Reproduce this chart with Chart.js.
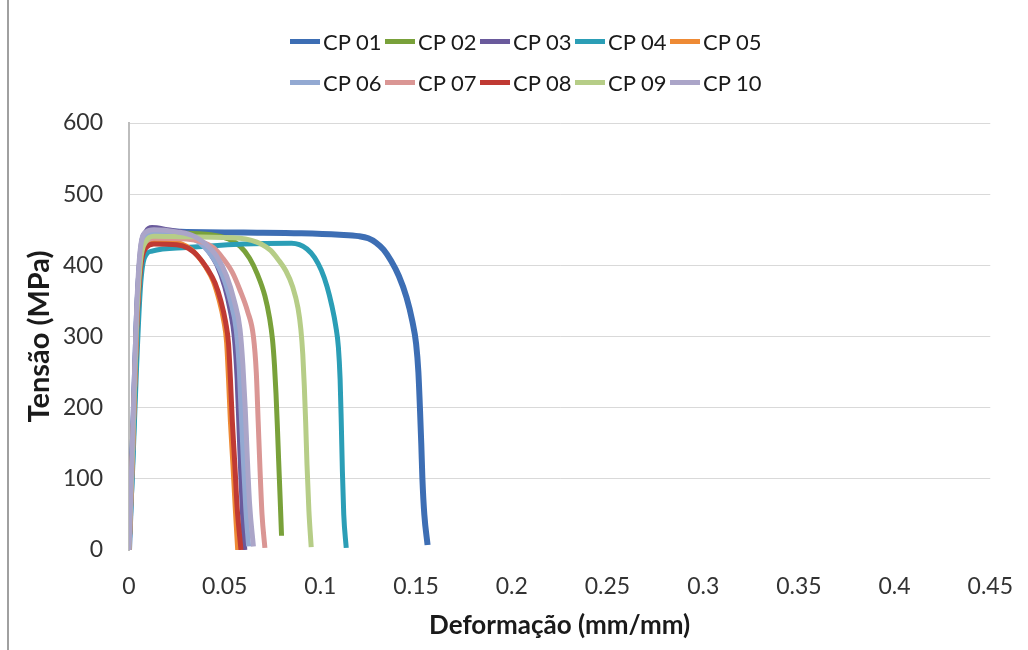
<!DOCTYPE html>
<html>
<head>
<meta charset="utf-8">
<script src="https://cdn.jsdelivr.net/npm/chart.js@4/dist/chart.umd.min.js"></script>
<style>
  body { margin: 0; background: #fff; }
  #wrap { position: relative; width: 1028px; height: 650px; background: #fff; }
  #frame { position: absolute; left: 7px; top: 0; width: 2px; height: 650px; background: #a0a0a0; }
  .legend-row { position: absolute; left: 290px; height: 26px; display: flex; font-family: Lato, "Open Sans", sans-serif; font-size: 22px; color: #1a1a1a; }
  .legend-item { width: 95px; display: flex; align-items: center; white-space: nowrap; }
  .legend-swatch { width: 30px; height: 5px; margin-right: 3px; flex: none; }
</style>
</head>
<body>
<div id="wrap">
  <canvas id="chart" width="1028" height="650"></canvas>
  <div id="frame"></div>
  <div class="legend-row" id="row1" style="top: 28px;"></div>
  <div class="legend-row" id="row2" style="top: 69px;"></div>
</div>
<script>
// Series names and colours
const seriesNames = ['CP 01', 'CP 02', 'CP 03', 'CP 04', 'CP 05', 'CP 06', 'CP 07', 'CP 08', 'CP 09', 'CP 10'];
const seriesColors = ['#3D6EB4', '#79A13A', '#6A5A9C', '#2B9EB6', '#EE8A35', '#93A9D2', '#DA9694', '#C03A33', '#B6CD87', '#ABA5C8'];

// Deformação (mm/mm) / Tensão (MPa)
const cp01Strain = [0, 0.002, 0.004, 0.006, 0.009, 0.012, 0.03, 0.06, 0.09, 0.11, 0.12, 0.125, 0.129, 0.133, 0.137, 0.141, 0.145, 0.148, 0.150, 0.1512, 0.152, 0.1527, 0.1533, 0.1543, 0.156];
const cp01Stress = [0, 150, 320, 410, 440, 448, 447, 446, 445, 443, 441, 438, 432, 422, 406, 385, 355, 322, 290, 250, 200, 150, 100, 50, 7];

const cp02Strain = [0, 0.002, 0.004, 0.006, 0.009, 0.014, 0.03, 0.045, 0.052, 0.058, 0.063, 0.067, 0.071, 0.0735, 0.075, 0.076, 0.0768, 0.0775, 0.0782, 0.079, 0.0797];
const cp02Stress = [0, 150, 320, 405, 437, 446, 445, 442, 437, 427, 410, 388, 357, 325, 295, 260, 220, 175, 125, 70, 20];

const cp03Strain = [0, 0.002, 0.004, 0.006, 0.009, 0.012, 0.02, 0.03, 0.036, 0.041, 0.046, 0.05, 0.053, 0.055, 0.0565, 0.0575, 0.0585, 0.0595, 0.0605];
const cp03Stress = [0, 160, 330, 420, 448, 453, 450, 445, 437, 422, 400, 370, 335, 300, 240, 170, 100, 40, 0];

const cp04Strain = [0, 0.002, 0.004, 0.006, 0.008, 0.012, 0.03, 0.06, 0.085, 0.089, 0.093, 0.097, 0.1005, 0.1035, 0.106, 0.108, 0.1094, 0.1103, 0.1109, 0.1115, 0.1122, 0.1135];
const cp04Stress = [0, 120, 260, 370, 410, 420, 425, 430, 431, 429, 423, 411, 393, 370, 343, 315, 285, 240, 180, 110, 50, 3];

const cp05Strain = [0, 0.002, 0.004, 0.006, 0.009, 0.013, 0.024, 0.03, 0.035, 0.04, 0.044, 0.047, 0.0495, 0.051, 0.052, 0.053, 0.0543, 0.0555, 0.0568];
const cp05Stress = [0, 150, 315, 400, 428, 433, 432, 427, 416, 398, 378, 352, 322, 292, 240, 180, 120, 60, 0];

const cp06Strain = [0, 0.002, 0.004, 0.006, 0.009, 0.013, 0.025, 0.033, 0.039, 0.044, 0.049, 0.053, 0.056, 0.0575, 0.0585, 0.0597, 0.061, 0.0625];
const cp06Stress = [0, 150, 320, 410, 440, 446, 444, 438, 427, 410, 385, 350, 310, 260, 200, 130, 60, 5];

const cp07Strain = [0, 0.002, 0.004, 0.006, 0.009, 0.013, 0.03, 0.038, 0.044, 0.049, 0.054, 0.058, 0.062, 0.065, 0.0665, 0.0675, 0.0685, 0.0695, 0.071];
const cp07Stress = [0, 150, 320, 405, 432, 438, 437, 433, 425, 410, 390, 365, 335, 300, 250, 180, 110, 50, 3];

const cp08Strain = [0, 0.002, 0.004, 0.006, 0.009, 0.013, 0.025, 0.031, 0.036, 0.041, 0.045, 0.048, 0.0505, 0.052, 0.053, 0.054, 0.0553, 0.0565, 0.0585];
const cp08Stress = [0, 150, 310, 395, 425, 430, 429, 424, 413, 395, 375, 350, 320, 290, 240, 180, 120, 60, 0];

const cp09Strain = [0, 0.002, 0.004, 0.006, 0.009, 0.013, 0.03, 0.058, 0.064, 0.069, 0.074, 0.078, 0.082, 0.0855, 0.0883, 0.0898, 0.0908, 0.0916, 0.0923, 0.093, 0.094, 0.0952];
const cp09Stress = [0, 150, 320, 405, 434, 441, 440, 438, 435, 430, 421, 408, 392, 370, 340, 310, 275, 230, 180, 120, 55, 4];

const cp10Strain = [0, 0.002, 0.004, 0.006, 0.009, 0.013, 0.025, 0.034, 0.04, 0.046, 0.051, 0.055, 0.058, 0.0595, 0.0607, 0.0618, 0.063, 0.065];
const cp10Stress = [0, 170, 340, 425, 447, 450, 447, 441, 430, 412, 385, 350, 310, 260, 200, 130, 65, 5];

const strainSets = [cp01Strain, cp02Strain, cp03Strain, cp04Strain, cp05Strain, cp06Strain, cp07Strain, cp08Strain, cp09Strain, cp10Strain];
const stressSets = [cp01Stress, cp02Stress, cp03Stress, cp04Stress, cp05Stress, cp06Stress, cp07Stress, cp08Stress, cp09Stress, cp10Stress];

// Axis ticks
const xTicks = [0, 0.05, 0.1, 0.15, 0.2, 0.25, 0.3, 0.35, 0.4, 0.45];
const yTicks = [0, 100, 200, 300, 400, 500, 600];

const datasets = seriesNames.map((name, i) => ({
    label: name,
    data: strainSets[i].map((x, j) => ({ x: x, y: stressSets[i][j] })),
    borderColor: seriesColors[i],
    backgroundColor: seriesColors[i],
    borderWidth: i === 0 ? 6 : 5,
    pointRadius: 0,
    showLine: true,
    cubicInterpolationMode: 'monotone',
    order: seriesNames.length - i, // later series on top, like Excel
}));

// legend in two rows
seriesNames.forEach((name, i) => {
    const row = document.getElementById(i < 5 ? 'row1' : 'row2');
    const item = document.createElement('div');
    item.className = 'legend-item';
    const sw = document.createElement('span');
    sw.className = 'legend-swatch';
    sw.style.background = seriesColors[i];
    item.appendChild(sw);
    item.appendChild(document.createTextNode(name));
    row.appendChild(item);
});

const tickFont = { family: 'Lato, "Open Sans", sans-serif', size: 23 };

new Chart(document.getElementById('chart'), {
    type: 'scatter',
    data: { datasets: datasets },
    options: {
        responsive: false,
        animation: false,
        layout: { padding: { left: 20, top: 123, right: 33, bottom: 8 } },
        plugins: {
            legend: { display: false },
            tooltip: { enabled: false },
        },
        scales: {
            x: {
                type: 'linear',
                min: 0,
                max: 0.45,
                afterFit: (scale) => { scale.height = 92; },
                afterBuildTicks: (scale) => { scale.ticks = xTicks.map(v => ({ value: v })); },
                grid: { display: false },
                border: { display: false },
                ticks: {
                    font: tickFont,
                    color: '#333',
                    padding: 15,
                    maxRotation: 0,
                    callback: (v) => String(Number(v.toFixed(2))),
                },
                title: {
                    display: true,
                    text: 'Deformação (mm/mm)',
                    font: { family: 'Lato, "Open Sans", sans-serif', size: 26, weight: 'bold' },
                    color: '#1a1a1a',
                    padding: { top: 0, bottom: 1 },
                },
            },
            y: {
                min: 0,
                max: 600,
                afterFit: (scale) => { scale.width = 109; },
                afterBuildTicks: (scale) => { scale.ticks = yTicks.map(v => ({ value: v })); },
                grid: {
                    drawTicks: false,
                    color: (ctx) => (ctx.tick && ctx.tick.value === 0 ? 'rgba(0,0,0,0)' : '#D9D9D9'),
                    lineWidth: 1,
                },
                border: { display: true, color: '#BDBDBD', width: 2 },
                ticks: {
                    font: tickFont,
                    color: '#333',
                    padding: 26,
                },
                title: {
                    display: true,
                    text: 'Tensão (MPa)',
                    font: { family: 'Lato, "Open Sans", sans-serif', size: 29, weight: 'bold' },
                    color: '#1a1a1a',
                    padding: { top: 2, bottom: 0 },
                },
            },
        },
    },
});
</script>
</body>
</html>
